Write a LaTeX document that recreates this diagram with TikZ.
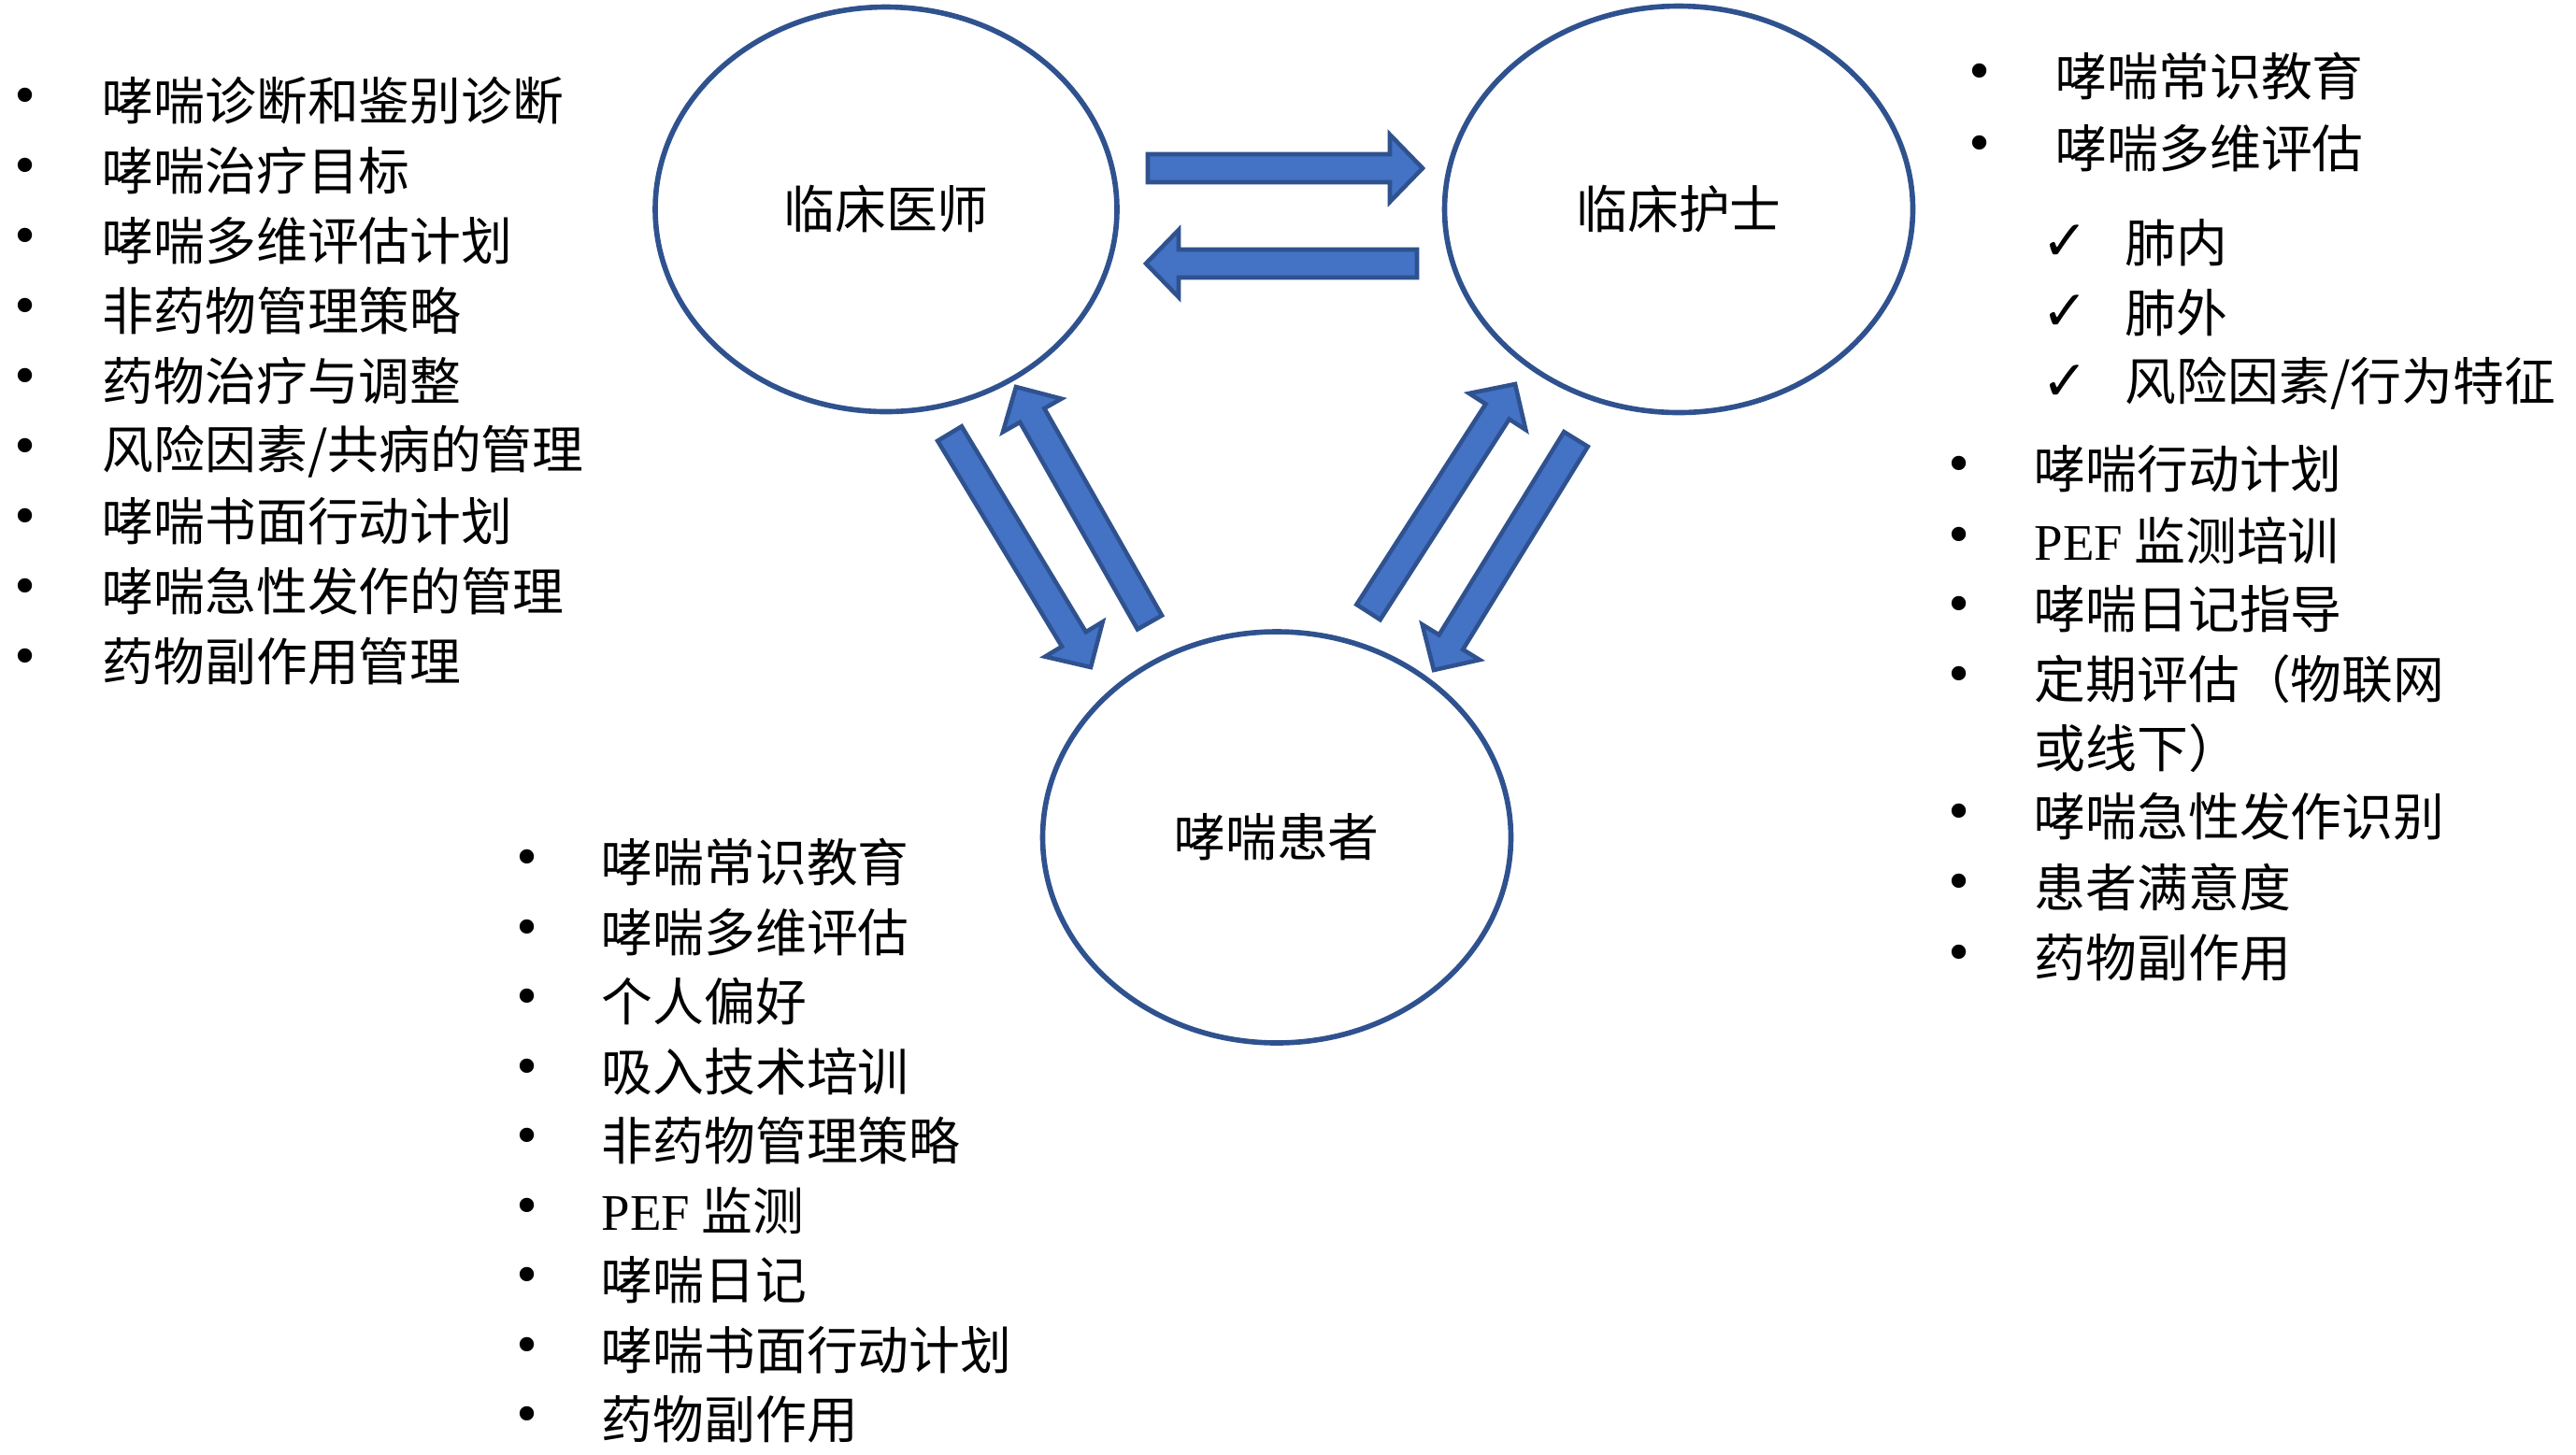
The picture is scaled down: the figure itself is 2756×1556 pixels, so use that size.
\documentclass[tikz,border=0pt]{standalone}
\usepackage{fontspec}
\setmainfont{Noto Sans CJK SC}
\newfontfamily\latinf{Liberation Serif}
\newfontfamily\symf{DejaVu Sans}
\usetikzlibrary{shapes.geometric,calc}
\definecolor{edgeblue}{HTML}{2F528F}
\definecolor{fillblue}{HTML}{4472C4}
\newcommand\pefword{{\latinf PEF}}
\tikzset{
  party/.style={ellipse, draw=edgeblue, line width=1.6pt, inner sep=0pt,
    font=\fontsize{15.6pt}{18pt}\selectfont},
  item/.style={anchor=west, inner sep=0pt, font=\fontsize{15.6pt}{18pt}\selectfont},
  dotmark/.style={inner sep=0pt, font=\symf\fontsize{15pt}{15pt}\selectfont},
  tickmark/.style={inner sep=0pt, font=\symf\fontsize{17pt}{17pt}\selectfont},
  blockarrow/.style={fill=fillblue, draw=edgeblue, line width=1.3pt, line join=miter}
}
\newcommand\blockarr[3]{%
  \coordinate (#3h) at ($(#2)!3.5mm!(#1)$);
  \filldraw[blockarrow] ($(#1)!1.5mm!90:(#2)$) -- ($(#3h)!1.5mm!-90:(#1)$)
    -- ($(#3h)!3.6mm!-90:(#1)$) -- (#2) -- ($(#3h)!3.6mm!90:(#1)$)
    -- ($(#3h)!1.5mm!90:(#1)$) -- ($(#1)!1.5mm!-90:(#2)$) -- cycle;
}
\begin{document}
\begin{tikzpicture}[x=0.1mm,y=-0.1mm]
\fill[white] (0,0) rectangle (2756,1556);
\useasboundingbox (0,0) rectangle (2756,1556);

% parties
\node[party, minimum width=49.4mm, minimum height=43.3mm] (doc) at (948,224) {临床医师};
\node[party, minimum width=50.1mm, minimum height=43.5mm] (nur) at (1796,224) {临床护士};
\node[party, minimum width=50.1mm, minimum height=44mm] (pat) at (1366,896) {哮喘患者};

% arrow end points
\coordinate (dn1) at (1228,180);  \coordinate (dn2) at (1522,180);
\coordinate (nd1) at (1516,282);  \coordinate (nd2) at (1226,282);
\coordinate (dp1) at (1016,464);  \coordinate (dp2) at (1167,714);
\coordinate (pd1) at (1230,666);  \coordinate (pd2) at (1087,414);
\coordinate (pn1) at (1464,655);  \coordinate (pn2) at (1621,411);
\coordinate (np1) at (1686,470);  \coordinate (np2) at (1534,717);
\blockarr{dn1}{dn2}{dn}
\blockarr{nd1}{nd2}{nd}
\blockarr{dp1}{dp2}{dp}
\blockarr{pd1}{pd2}{pd}
\blockarr{pn1}{pn2}{pn}
\blockarr{np1}{np2}{np}

% doctor list
\foreach \t [count=\i] in {哮喘诊断和鉴别诊断,哮喘治疗目标,哮喘多维评估计划,非药物管理策略,药物治疗与调整,风险因素/共病的管理,哮喘书面行动计划,哮喘急性发作的管理,药物副作用管理}{
  \node[dotmark] (db\i) at (27,{108+75*(\i-1)}) {•};
  \node[item] (dt\i) at (109,{108+75*(\i-1)}) {\t};
}

% nurse list
\node[dotmark] (nb1) at (2118,82) {•};
\node[item] (nt1) at (2199,82) {哮喘常识教育};
\node[dotmark] (nb2) at (2118,159) {•};
\node[item] (nt2) at (2199,159) {哮喘多维评估};
\node[tickmark] (nc1) at (2210,260) {✓};
\node[item] (ns1) at (2273,260) {肺内};
\node[tickmark] (nc2) at (2210,335) {✓};
\node[item] (ns2) at (2273,335) {肺外};
\node[tickmark] (nc3) at (2210,410) {✓};
\node[item] (ns3) at (2273,410) {风险因素/行为特征};

\node[dotmark] (nb3) at (2096,502) {•};
\node[item] (nt3) at (2176,502) {哮喘行动计划};
\node[dotmark] (nb4) at (2096,578) {•};
\node[item] (nt4) at (2176,578) {\pefword{} 监测培训};
\node[dotmark] (nb5) at (2096,652) {•};
\node[item] (nt5) at (2176,652) {哮喘日记指导};
\node[dotmark] (nb6) at (2096,727) {•};
\node[item] (nt6) at (2176,727) {定期评估（物联网};
\node[item] (nt6b) at (2176,801) {或线下）};
\node[dotmark] (nb7) at (2096,874) {•};
\node[item] (nt7) at (2176,874) {哮喘急性发作识别};
\node[dotmark] (nb8) at (2096,949) {•};
\node[item] (nt8) at (2176,949) {患者满意度};
\node[dotmark] (nb9) at (2096,1025) {•};
\node[item] (nt9) at (2176,1025) {药物副作用};

% patient list
\foreach \t [count=\i] in {哮喘常识教育,哮喘多维评估,个人偏好,吸入技术培训,非药物管理策略,\pefword{} 监测,哮喘日记,哮喘书面行动计划,药物副作用}{
  \node[dotmark] (pb\i) at (564,{923+74.5*(\i-1)}) {•};
  \node[item] (pt\i) at (643,{923+74.5*(\i-1)}) {\t};
}
\end{tikzpicture}
\end{document}
